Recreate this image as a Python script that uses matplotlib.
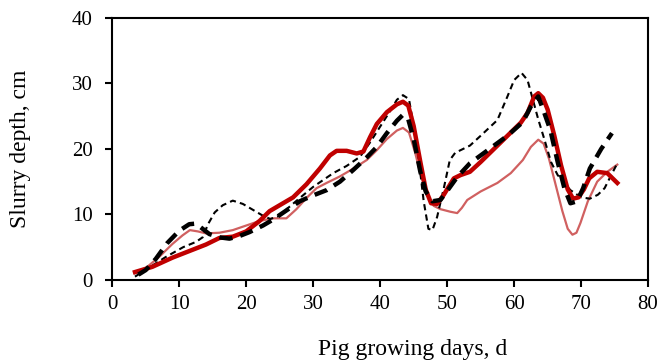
import matplotlib
matplotlib.use('Agg')
import matplotlib.pyplot as plt
from matplotlib import rcParams

rcParams['font.family'] = 'Liberation Serif'

# Thick red solid
red_x = [3.4, 6, 9, 12, 14, 16, 18, 20, 22, 23.5, 25, 27, 29, 31, 32.5, 33.5,
         35, 36.5, 37.5, 38.5, 39.5, 41, 42.5, 43.4, 44.2, 45, 46, 46.8, 47.6,
         48.5, 49.5, 51, 52, 53.4, 55, 57, 59, 61, 62, 63, 63.6, 64.3, 65, 66,
         67, 68, 68.8, 69.6, 70.4, 71.2, 72.4, 73.9, 75.4]
red_y = [1.2, 2.0, 3.4, 4.6, 5.4, 6.4, 6.6, 7.4, 9.0, 10.5, 11.4, 12.6, 14.6,
         17.0, 19.0, 19.7, 19.7, 19.3, 19.6, 21.8, 23.8, 25.6, 26.8, 27.2, 26.6,
         23.5, 18.0, 13.8, 11.7, 11.6, 13.0, 15.5, 16.0, 16.5, 18.0, 20.0, 22.0,
         24.0, 25.5, 28.0, 28.5, 27.8, 26.0, 22.0, 17.5, 13.8, 12.4, 12.6, 13.8,
         15.5, 16.5, 16.3, 14.8]

# Thin red solid
pink_x = [3.4, 5, 7, 9, 10.5, 11.6, 12.8, 14, 16, 18, 20, 22, 24, 26, 27.5, 29,
          30.5, 32, 34, 36, 38, 39.5, 41, 42.5, 43.4, 44.3, 45.2, 46.2, 47, 48,
          49, 50.5, 51.5, 52.2, 53, 55, 57.5, 59.5, 61.3, 62.5, 63.6, 64.4, 65.2,
          66.2, 67.2, 68, 68.7, 69.3, 69.9, 71, 72.4, 73.9, 75.4]
pink_y = [1.0, 1.8, 3.5, 5.5, 6.8, 7.6, 7.4, 7.1, 7.2, 7.6, 8.3, 9.0, 9.4, 9.4,
          10.8, 12.5, 14.0, 14.8, 15.8, 17.0, 18.3, 19.8, 21.5, 22.8, 23.2, 22.5,
          19.5, 15.5, 13.0, 11.3, 10.8, 10.4, 10.2, 11.0, 12.2, 13.5, 14.8, 16.3,
          18.3, 20.3, 21.4, 20.8, 18.5, 14.5, 10.5, 7.8, 6.9, 7.2, 8.7, 12.0,
          15.0, 16.5, 17.6]

# Thick black dashed
blk_x = [3.9, 5, 6.5, 8.2, 10, 11.5, 12.5, 13.5, 14.5, 16, 17.5, 19, 20.5, 22.5,
         24, 26, 28, 30, 32, 34, 36, 38, 39.5, 41, 42.5, 43.4, 44.2, 45, 46,
         46.8, 47.8, 49, 50.3, 51.5, 53.4, 55, 57, 59, 61.3, 62.5, 63.6, 64.5,
         65.4, 66.5, 67.5, 68.4, 69.4, 70.3, 71.3, 73, 74.6]
blk_y = [0.8, 1.5, 3.2, 5.6, 7.5, 8.5, 8.6, 7.8, 7.0, 6.5, 6.3, 6.7, 7.3, 8.3,
         9.2, 10.6, 12.0, 12.9, 13.7, 15.0, 16.8, 18.7, 20.3, 22.4, 24.3, 25.2,
         24.5, 21.5, 16.5, 13.5, 12.0, 12.2, 14.0, 15.7, 17.8, 19.0, 20.5, 22.0,
         24.1, 26.5, 28.0, 25.5, 22.9, 18.0, 14.0, 11.7, 12.0, 14.0, 17.0, 20.0,
         22.4]

# Thin black dashed
thin_x = [3.4, 5.7, 8, 10.6, 12.5, 13.5, 14.3, 15.3, 16.5, 18, 19.5, 21, 22.5,
          23.6, 25, 26.5, 28, 30, 33, 35, 37, 38.5, 40, 41.5, 42.5, 43.4, 44.3,
          45, 45.8, 46.5, 47.2, 47.8, 48.5, 49.5, 50.4, 51.2, 52, 53.4, 55, 57.5,
          59, 60, 61.1, 62, 62.8, 63.6, 64.5, 65.5, 66.5, 68.4, 70, 71.3, 72.5,
          73.5, 74.5, 75.4]
thin_y = [0.5, 2.0, 3.5, 5.0, 5.8, 6.5, 8.5, 10.3, 11.4, 12.1, 11.6, 10.7, 9.8,
          9.3, 9.8, 11.2, 12.5, 14.2, 16.3, 17.4, 18.8, 21.0, 23.4, 25.8, 27.5,
          28.2, 27.6, 23.5, 18.0, 12.0, 7.8, 7.6, 9.6, 14.0, 18.3, 19.4, 19.8,
          20.5, 22.0, 24.4, 28.0, 30.5, 31.6, 30.5, 27.5, 24.5, 21.5, 18.0, 16.0,
          13.7, 12.6, 12.4, 13.0, 14.0, 16.0, 17.8]

fig = plt.figure(figsize=(6.6, 3.64), dpi=100)
ax = fig.add_axes([0.170, 0.231, 0.812, 0.720])

ax.plot(pink_x, pink_y, color='#D06060', lw=1.6, zorder=2,
        solid_joinstyle='round')
ax.plot(thin_x, thin_y, color='black', lw=1.5, ls=(0, (3, 2)), zorder=3)
ax.plot(red_x, red_y, color='#C00000', lw=3.2, zorder=4,
        solid_joinstyle='round')
ax.plot(blk_x, blk_y, color='black', lw=3.2, ls=(0, (3, 1.8)), zorder=5)

ax.set_xlim(0, 80)
ax.set_ylim(0, 40)
ax.set_xticks(range(0, 81, 10))
ax.set_yticks(range(0, 41, 10))
ax.tick_params(direction='out', length=5, width=1.5, labelsize=15,
               top=False, right=False)
ax.tick_params(axis='x', pad=6)
ax.tick_params(axis='y', pad=9)
for s in ax.spines.values():
    s.set_linewidth(1.5)

ax.set_xlabel('Pig growing days, d', fontsize=17, va='center')
ax.set_ylabel('Slurry depth, cm', fontsize=17, va='center')
ax.xaxis.set_label_coords(0.56, -0.267)
ax.yaxis.set_label_coords(-0.172, 0.5)

fig.savefig('out.png', dpi=100)
